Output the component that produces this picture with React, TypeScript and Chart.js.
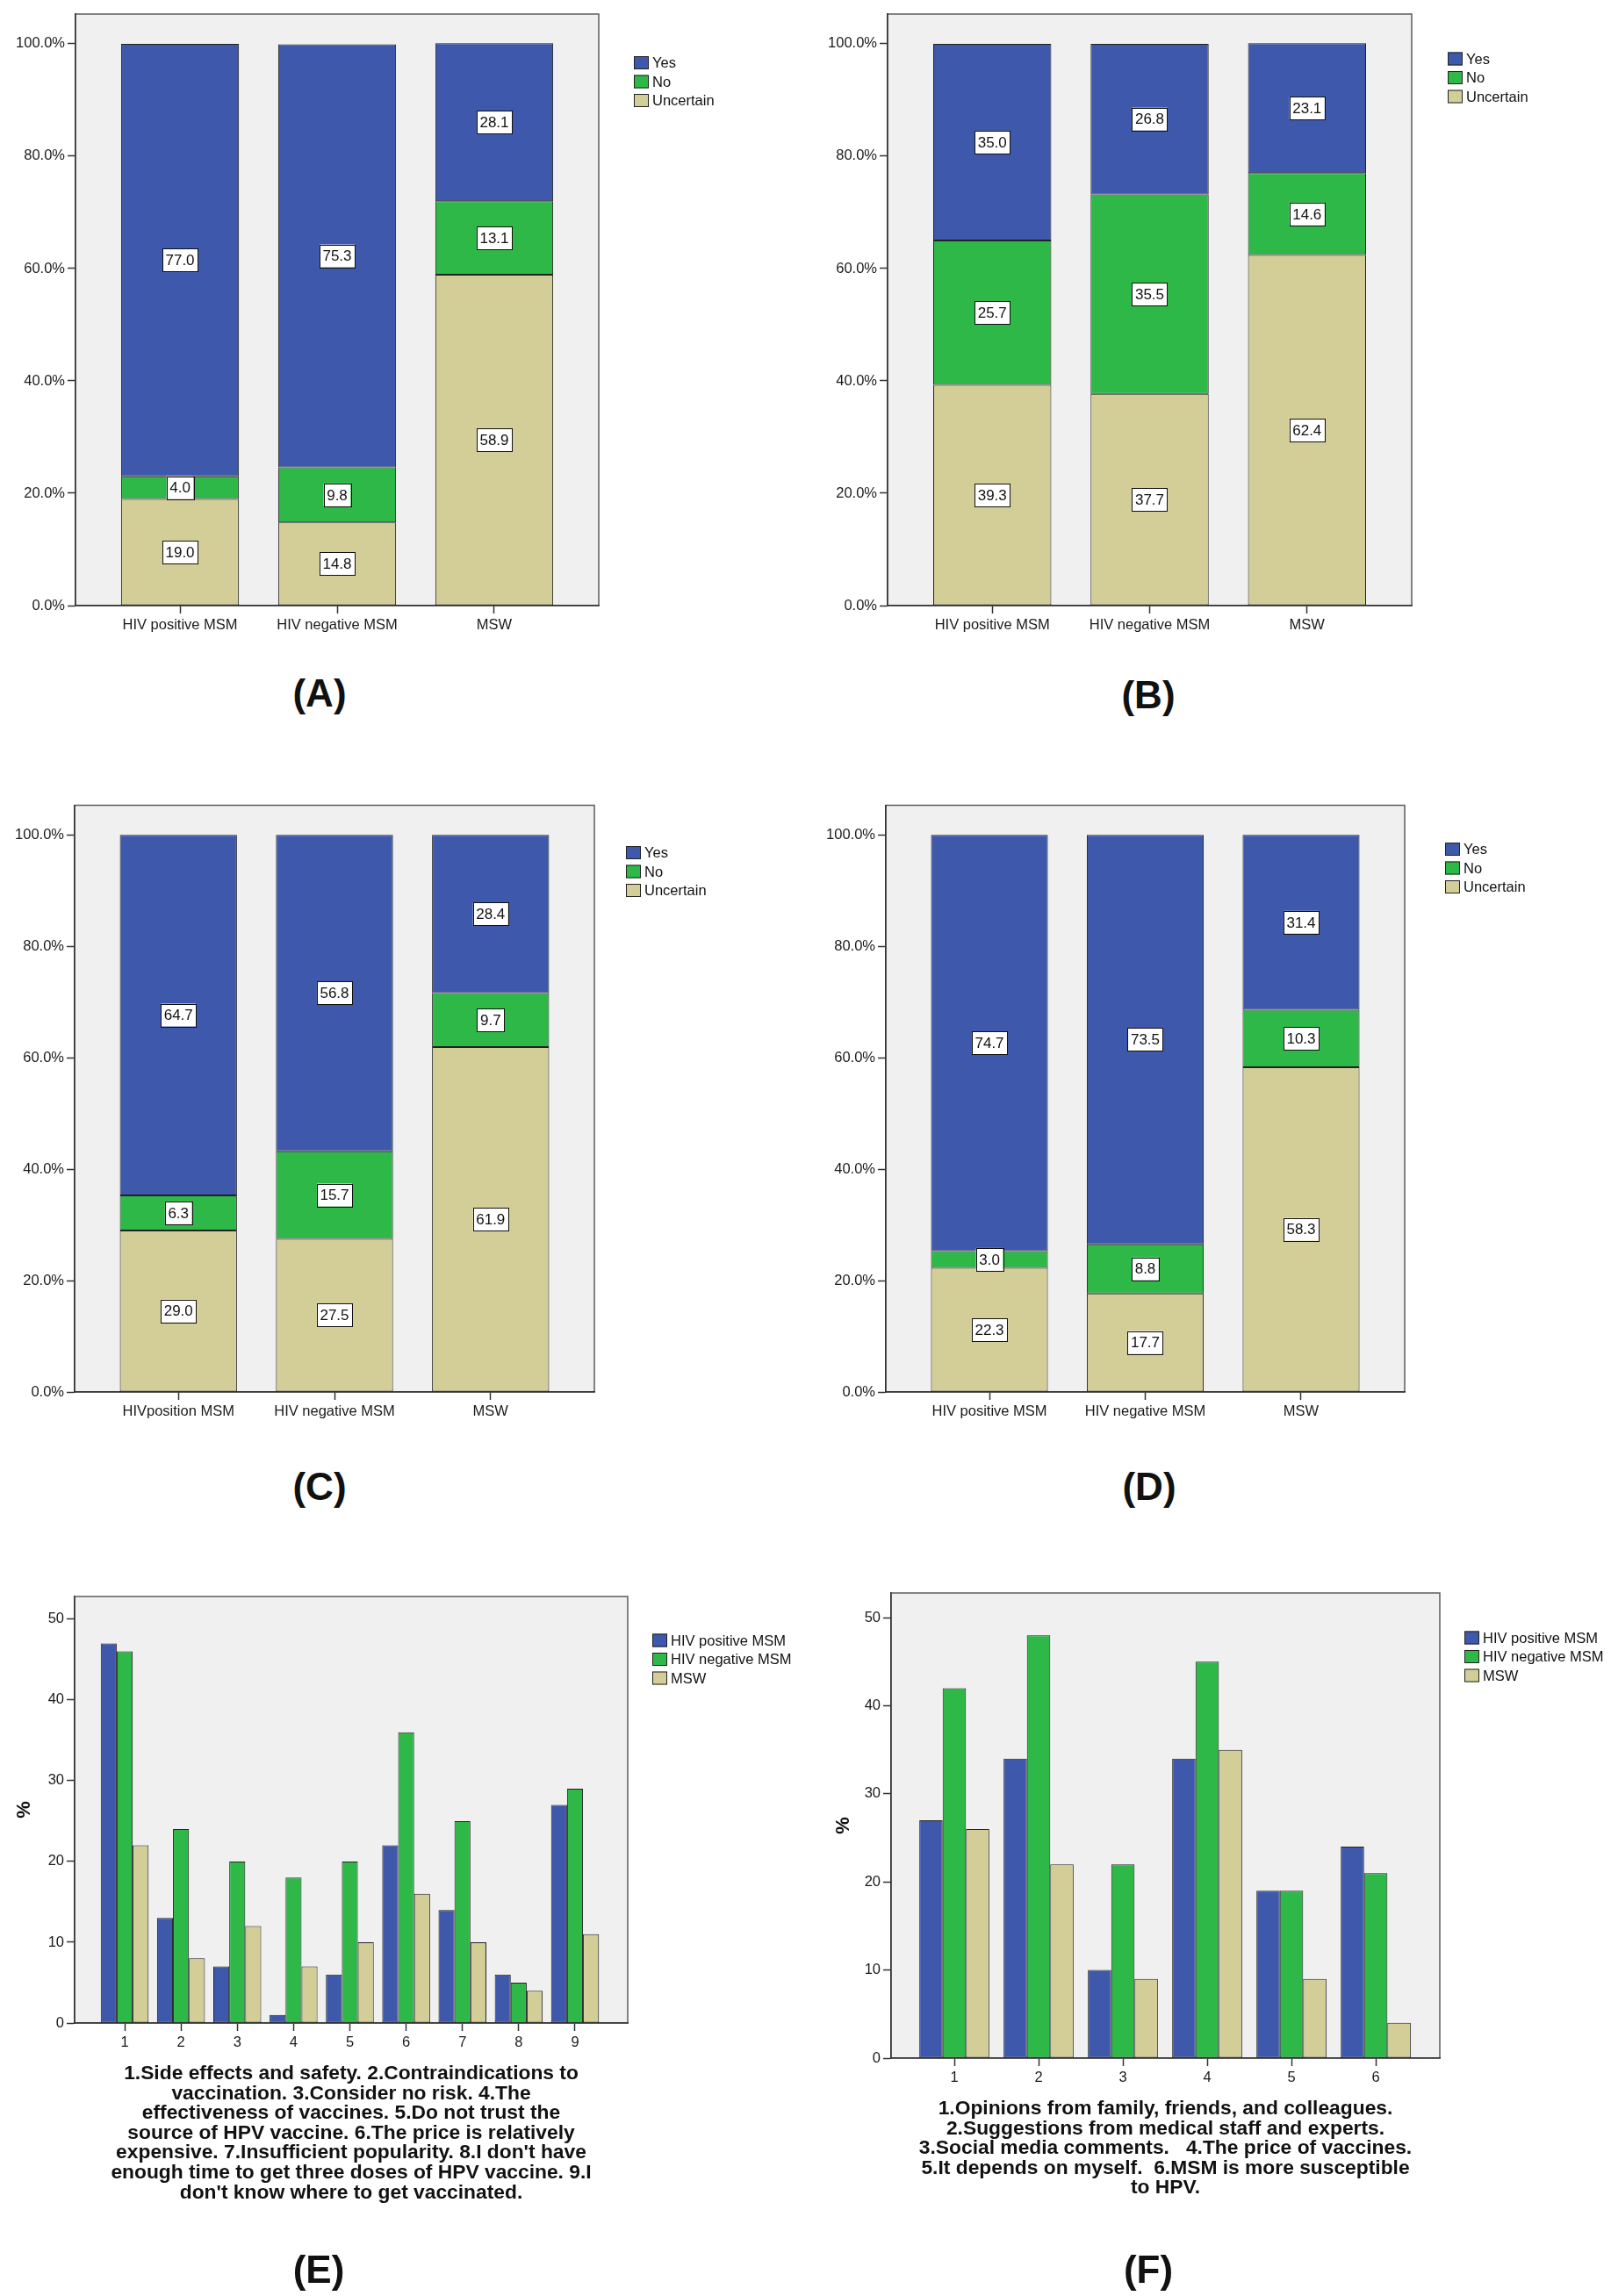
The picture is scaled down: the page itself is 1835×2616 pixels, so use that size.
'use client';

import { useEffect, useRef } from 'react';
import { Chart, registerables } from 'chart.js';

Chart.register(...registerables);

const FONT = '"Liberation Sans", Arial, Helvetica, sans-serif';
const BLUE = '#3E58AC';
const GREEN = '#2EB848';
const TAN = '#D3CE97';

// ---- data ----
const responses = ['Yes', 'No', 'Uncertain'];
const groups = ['HIV positive MSM', 'HIV negative MSM', 'MSW'];
const groupsC = ['HIVposition MSM', 'HIV negative MSM', 'MSW'];
const pctTicks = [0, 20, 40, 60, 80, 100];

const yesA = [77.0, 75.3, 28.1];
const noA = [4.0, 9.8, 13.1];
const uncA = [19.0, 14.8, 58.9];

const yesB = [35.0, 26.8, 23.1];
const noB = [25.7, 35.5, 14.6];
const uncB = [39.3, 37.7, 62.4];

const yesC = [64.7, 56.8, 28.4];
const noC = [6.3, 15.7, 9.7];
const uncC = [29.0, 27.5, 61.9];

const yesD = [74.7, 73.5, 31.4];
const noD = [3.0, 8.8, 10.3];
const uncD = [22.3, 17.7, 58.3];

const reasonsE = ['1', '2', '3', '4', '5', '6', '7', '8', '9'];
const posE = [47, 13, 7, 1, 6, 22, 14, 6, 27];
const negE = [46, 24, 20, 18, 20, 36, 25, 5, 29];
const mswE = [22, 8, 12, 7, 10, 16, 10, 4, 11];

const reasonsF = ['1', '2', '3', '4', '5', '6'];
const posF = [27, 34, 10, 34, 19, 24];
const negF = [42, 48, 22, 45, 19, 21];
const mswF = [26, 22, 9, 35, 9, 4];

const countTicks = [0, 10, 20, 30, 40, 50];

const captionE = [
  '1.Side effects and safety. 2.Contraindications to',
  'vaccination. 3.Consider no risk. 4.The',
  'effectiveness of vaccines. 5.Do not trust the',
  'source of HPV vaccine. 6.The price is relatively',
  "expensive. 7.Insufficient popularity. 8.I don't have",
  'enough time to get three doses of HPV vaccine. 9.I',
  "don't know where to get vaccinated.",
];
const captionF = [
  '1.Opinions from family, friends, and colleagues.',
  '2.Suggestions from medical staff and experts.',
  '3.Social media comments.   4.The price of vaccines.',
  '5.It depends on myself.  6.MSM is more susceptible',
  'to HPV.',
];

// ---- plugins ----
const plotFrame = {
  id: 'plotFrame',
  beforeDraw(chart: any) {
    const { ctx, chartArea: a } = chart;
    ctx.save();
    ctx.fillStyle = '#F0F0F0';
    ctx.fillRect(a.left, a.top, a.right - a.left, a.bottom - a.top);
    ctx.strokeStyle = '#5c5c5c';
    ctx.lineWidth = 1.5;
    ctx.strokeRect(a.left, a.top, a.right - a.left, a.bottom - a.top);
    ctx.restore();
  },
};

const swatchLegend = {
  id: 'swatchLegend',
  afterDraw(chart: any, _args: any, opts: any) {
    const { ctx, chartArea: a } = chart;
    ctx.save();
    ctx.font = `16.5px ${FONT}`;
    ctx.textAlign = 'left';
    ctx.textBaseline = 'middle';
    opts.items.forEach((it: any, i: number) => {
      const x = a.right + opts.dx;
      const cy = a.top + opts.dy + i * 21.5;
      ctx.fillStyle = it.color;
      ctx.fillRect(x, cy - 7.5, 17, 15);
      ctx.strokeStyle = '#222';
      ctx.lineWidth = 1;
      ctx.strokeRect(x + 0.5, cy - 7, 16, 14);
      ctx.fillStyle = '#111';
      ctx.fillText(it.label, x + 21, cy + 1);
    });
    ctx.restore();
  },
};

// white boxed value labels in the middle of each stacked segment
const boxLabels = {
  id: 'boxLabels',
  afterDatasetsDraw(chart: any) {
    const { ctx } = chart;
    ctx.save();
    ctx.font = `17px ${FONT}`;
    ctx.textAlign = 'center';
    ctx.textBaseline = 'middle';
    chart.data.datasets.forEach((ds: any, di: number) => {
      chart.getDatasetMeta(di).data.forEach((bar: any, i: number) => {
        const { x, y, base } = bar.getProps(['x', 'y', 'base'], true);
        const cy = (y + base) / 2;
        const text = ds.data[i].y.toFixed(1);
        const w = ctx.measureText(text).width + 7;
        const h = 26;
        ctx.fillStyle = '#fff';
        ctx.fillRect(x - w / 2, cy - h / 2, w, h);
        ctx.strokeStyle = '#111';
        ctx.lineWidth = 1;
        ctx.strokeRect(Math.round(x - w / 2) + 0.5, Math.round(cy - h / 2) + 0.5, Math.round(w), h);
        ctx.fillStyle = '#111';
        ctx.fillText(text, x, cy + 1);
      });
    });
    ctx.restore();
  },
};

// ---- panel layout ----
type Area = { l: number; t: number; r: number; b: number };
type Spec = {
  left: number;
  top: number;
  width: number;
  height: number;
  area: Area;
  xh: number;
  tag: string;
  tagX: number;
  tagY: number;
  build: (s: Spec) => any;
};

const tickFont = { family: FONT, size: 16.5 };

function axisStyle() {
  return {
    border: { display: true, color: '#333', width: 1.5 },
    grid: {
      display: true,
      drawOnChartArea: false,
      drawTicks: true,
      tickLength: 9,
      tickWidth: 1.5,
      color: '#333',
      offset: false,
    },
  };
}

function layoutFor(s: Spec) {
  return {
    padding: {
      left: 0,
      top: s.area.t,
      right: s.width - s.area.r,
      bottom: s.height - s.area.b - s.xh,
    },
  };
}

function stacked(cats: string[], yes: number[], no: number[], unc: number[], dx: number, dy: number) {
  return (s: Spec) => ({
    type: 'bar',
    data: {
      datasets: [
        { label: responses[2], data: unc.map((v, i) => ({ x: i, y: v })), backgroundColor: TAN },
        { label: responses[1], data: no.map((v, i) => ({ x: i, y: v })), backgroundColor: GREEN },
        { label: responses[0], data: yes.map((v, i) => ({ x: i, y: v })), backgroundColor: BLUE },
      ],
    },
    plugins: [plotFrame, boxLabels, swatchLegend],
    options: {
      animation: false,
      responsive: false,
      maintainAspectRatio: false,
      layout: layoutFor(s),
      datasets: {
        bar: {
          barPercentage: 0.75,
          categoryPercentage: 1,
          borderColor: '#222',
          borderWidth: 1,
          borderSkipped: false,
        },
      },
      plugins: {
        legend: { display: false },
        tooltip: { enabled: false },
        swatchLegend: {
          dx,
          dy,
          items: [
            { label: responses[0], color: BLUE },
            { label: responses[1], color: GREEN },
            { label: responses[2], color: TAN },
          ],
        },
      },
      scales: {
        x: {
          type: 'linear',
          stacked: true,
          offset: false,
          min: -0.665,
          max: 2.665,
          afterBuildTicks: (sc: any) => {
            sc.ticks = cats.map((_, i) => ({ value: i }));
          },
          afterFit: (sc: any) => {
            sc.height = s.xh;
          },
          ticks: {
            autoSkip: false,
            maxRotation: 0,
            padding: 4,
            color: '#1a1a1a',
            font: tickFont,
            callback: (_v: any, i: number) => cats[i],
          },
          ...axisStyle(),
        },
        y: {
          type: 'linear',
          stacked: true,
          min: 0,
          max: 105.3,
          afterBuildTicks: (sc: any) => {
            sc.ticks = pctTicks.map((v) => ({ value: v }));
          },
          afterFit: (sc: any) => {
            sc.width = s.area.l;
          },
          ticks: {
            padding: 3,
            color: '#1a1a1a',
            font: tickFont,
            callback: (v: number) => v.toFixed(1) + '%',
          },
          ...axisStyle(),
        },
      },
    },
  });
}

function grouped(
  cats: string[],
  pos: number[],
  neg: number[],
  msw: number[],
  caption: string[],
  xMin: number,
  xMax: number,
  catPct: number,
  pctPad: number,
  dx: number,
  dy: number,
) {
  return (s: Spec) => ({
    type: 'bar',
    data: {
      datasets: [
        { label: groups[0], data: pos.map((v, i) => ({ x: i + 1, y: v })), backgroundColor: BLUE },
        { label: groups[1], data: neg.map((v, i) => ({ x: i + 1, y: v })), backgroundColor: GREEN },
        { label: groups[2], data: msw.map((v, i) => ({ x: i + 1, y: v })), backgroundColor: TAN },
      ],
    },
    plugins: [plotFrame, swatchLegend],
    options: {
      animation: false,
      responsive: false,
      maintainAspectRatio: false,
      layout: layoutFor(s),
      datasets: {
        bar: {
          barPercentage: 1,
          categoryPercentage: catPct,
          borderColor: '#222',
          borderWidth: 1,
          borderSkipped: false,
        },
      },
      plugins: {
        legend: { display: false },
        tooltip: { enabled: false },
        swatchLegend: {
          dx,
          dy,
          items: [
            { label: groups[0], color: BLUE },
            { label: groups[1], color: GREEN },
            { label: groups[2], color: TAN },
          ],
        },
      },
      scales: {
        x: {
          type: 'linear',
          stacked: false,
          offset: false,
          min: xMin,
          max: xMax,
          afterBuildTicks: (sc: any) => {
            sc.ticks = cats.map((_, i) => ({ value: i + 1 }));
          },
          afterFit: (sc: any) => {
            sc.height = s.xh;
          },
          ticks: {
            autoSkip: false,
            maxRotation: 0,
            padding: 4,
            color: '#1a1a1a',
            font: tickFont,
            callback: (_v: any, i: number) => cats[i],
          },
          title: {
            display: true,
            text: caption,
            color: '#111',
            padding: { top: 0, bottom: 0 },
            font: { family: FONT, size: 22.8, weight: 'bold', lineHeight: '22.6px' },
          },
          ...axisStyle(),
        },
        y: {
          type: 'linear',
          min: 0,
          max: 52.8,
          afterBuildTicks: (sc: any) => {
            sc.ticks = countTicks.map((v) => ({ value: v }));
          },
          afterFit: (sc: any) => {
            sc.width = s.area.l;
          },
          ticks: {
            padding: 3,
            color: '#1a1a1a',
            font: tickFont,
            callback: (v: number) => String(v),
          },
          title: {
            display: true,
            text: '%',
            color: '#111',
            padding: { top: pctPad, bottom: 0 },
            font: { family: FONT, size: 22, weight: 'bold' },
          },
          ...axisStyle(),
        },
      },
    },
  });
}

const panels: Spec[] = [
  {
    left: 0, top: 0, width: 917, height: 760,
    area: { l: 86, t: 16, r: 682, b: 690 }, xh: 40,
    tag: '(A)', tagX: 364, tagY: 790,
    build: stacked(groups, yesA, noA, uncA, 40, 55.5),
  },
  {
    left: 917, top: 0, width: 918, height: 760,
    area: { l: 94, t: 16, r: 691, b: 690 }, xh: 40,
    tag: '(B)', tagX: 1308, tagY: 792,
    build: stacked(groups, yesB, noB, uncB, 41, 51),
  },
  {
    left: 0, top: 880, width: 917, height: 760,
    area: { l: 85, t: 37.5, r: 677, b: 706 }, xh: 40,
    tag: '(C)', tagX: 364, tagY: 1694,
    build: stacked(groupsC, yesC, noC, uncC, 36, 54),
  },
  {
    left: 917, top: 880, width: 918, height: 760,
    area: { l: 92, t: 37.5, r: 683, b: 706 }, xh: 40,
    tag: '(D)', tagX: 1309, tagY: 1694,
    build: stacked(groups, yesD, noD, uncD, 46, 50),
  },
  {
    left: 0, top: 1750, width: 917, height: 866,
    area: { l: 85, t: 69, r: 715, b: 555 }, xh: 204.7,
    tag: '(E)', tagX: 363, tagY: 2586,
    build: grouped(reasonsE, posE, negE, mswE, captionE, 0.111, 9.936, 0.85, 15, 28, 50),
  },
  {
    left: 917, top: 1750, width: 918, height: 866,
    area: { l: 98, t: 65, r: 723, b: 595 }, xh: 159.5,
    tag: '(F)', tagX: 1308, tagY: 2586,
    build: grouped(reasonsF, posF, negF, mswF, captionF, 0.25, 6.76, 0.83, 31, 28, 51),
  },
];

function Panel({ spec }: { spec: Spec }) {
  const canvasRef = useRef<HTMLCanvasElement>(null);
  const chartInstance = useRef<Chart | null>(null);

  useEffect(() => {
    if (!canvasRef.current) return;
    if (chartInstance.current) chartInstance.current.destroy();
    chartInstance.current = new Chart(canvasRef.current, spec.build(spec));
    return () => {
      if (chartInstance.current) {
        chartInstance.current.destroy();
        chartInstance.current = null;
      }
    };
  }, [spec]);

  return (
    <canvas
      ref={canvasRef}
      width={spec.width}
      height={spec.height}
      style={{ position: 'absolute', left: spec.left, top: spec.top, width: spec.width, height: spec.height }}
    />
  );
}

export default function App() {
  useEffect(() => {
    document.body.style.margin = '0';
  }, []);

  return (
    <div style={{ position: 'relative', width: 1835, height: 2616, background: '#fff', overflow: 'hidden' }}>
      {panels.map((p) => (
        <Panel key={p.tag} spec={p} />
      ))}
      {panels.map((p) => (
        <div
          key={p.tag + '-tag'}
          style={{
            position: 'absolute',
            left: p.tagX,
            top: p.tagY,
            transform: 'translate(-50%, -50%)',
            font: `bold 44px ${FONT}`,
            color: '#111',
            whiteSpace: 'nowrap',
          }}
        >
          {p.tag}
        </div>
      ))}
    </div>
  );
}
